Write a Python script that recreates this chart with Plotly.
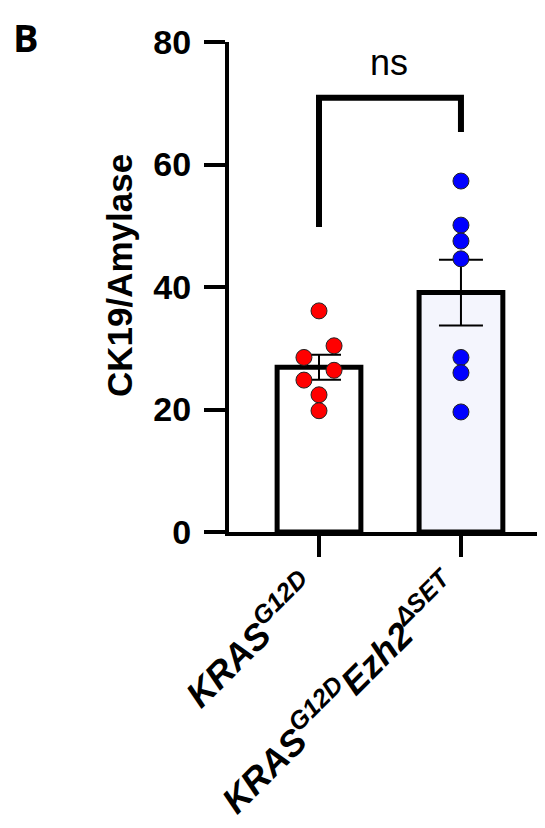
import numpy as np
import plotly.graph_objects as go

# ---- data ----
categories = ["<i>KRAS<sup>G12D</sup></i>", "<i>KRAS<sup>G12D</sup>Ezh2<sup>ΔSET</sup></i>"]
kras_values = [36.1, 30.4, 28.5, 26.4, 24.8, 22.4, 19.8]
ezh2_values = [57.3, 50.1, 47.5, 44.6, 28.5, 26.0, 19.6]
y_ticks = [0, 20, 40, 60, 80]
y_title = "CK19/Amylase"
sig_label = "ns"
panel_label = "B"

# layout-only helpers (point jitter within a column, bracket heights)
kras_jitter = [0, 0.106, -0.106, 0.106, -0.106, 0, 0]
ezh2_jitter = [0, 0, 0, 0, 0, 0, 0]
bracket_top = 70.9
bracket_left_bottom = 49.8
bracket_right_bottom = 65.3

groups = [kras_values, ezh2_values]
means = [float(np.mean(g)) for g in groups]
sems = [float(np.std(g, ddof=1) / np.sqrt(len(g))) for g in groups]
xpos = [0, 1]

FONT = "Liberation Sans, Arial, sans-serif"
OFF = 8                      # page body margin
W, H = 545 - OFF, 828 - OFF
L, T, B = 221, 34, 296
PW = W - L
PH = H - T - B


def px(sx):  # screen x -> paper
    return (sx - OFF - L) / PW


def py(sy):  # screen y -> paper
    return (H - B - (sy - OFF)) / PH


fig = go.Figure()
fig.add_trace(go.Bar(
    x=xpos, y=means, width=0.59,
    marker=dict(color=["#ffffff", "#f4f5fd"], line=dict(color="black", width=5)),
    error_y=dict(type="data", array=sems, visible=True, color="black", thickness=2, width=22),
    showlegend=False,
))
fig.add_trace(go.Scatter(
    x=[xpos[0] + j for j in kras_jitter], y=kras_values, mode="markers",
    marker=dict(color="#ff0000", size=16, line=dict(color="#222222", width=1)),
    showlegend=False,
))
fig.add_trace(go.Scatter(
    x=[xpos[1] + j for j in ezh2_jitter], y=ezh2_values, mode="markers",
    marker=dict(color="#0000ff", size=16, line=dict(color="#222222", width=1)),
    showlegend=False,
))

# significance bracket
fig.add_shape(type="path",
              path=f"M {xpos[0]},{bracket_left_bottom} L {xpos[0]},{bracket_top} L {xpos[1]},{bracket_top} L {xpos[1]},{bracket_right_bottom}",
              xref="x", yref="y", line=dict(color="black", width=6))
fig.add_annotation(x=0.49, y=76.6, xref="x", yref="y", text=sig_label, showarrow=False,
                   xanchor="center", yanchor="middle",
                   font=dict(family=FONT, size=36, color="black"))
fig.add_annotation(x=px(119), y=py(275), xref="paper", yref="paper", text=y_title,
                   textangle=-90, showarrow=False, xanchor="center", yanchor="middle",
                   font=dict(family=FONT, size=35, color="black", weight="bold"))
fig.add_annotation(x=px(26), y=py(37), xref="paper", yref="paper", text=panel_label,
                   showarrow=False, xanchor="center", yanchor="middle",
                   font=dict(family="Open Sans, sans-serif", size=38, color="black", weight="bold"))

fig.update_layout(
    width=W, height=H,
    margin=dict(l=L, r=0, t=T, b=B),
    plot_bgcolor="white", paper_bgcolor="white",
    xaxis=dict(range=[-0.634, 1.592], tickvals=xpos, ticktext=categories, tickangle=-45,
               showline=True, linecolor="black", linewidth=4, ticks="outside", ticklen=21,
               tickwidth=4, tickcolor="black", showgrid=False, zeroline=False, automargin=False,
               ticklabelshift=-12, ticklabelstandoff=-4,
               tickfont=dict(family=FONT, size=36, color="black", weight="bold")),
    yaxis=dict(range=[0, 80], tickvals=y_ticks, showline=True, linecolor="black", linewidth=4,
               ticks="outside", ticklen=21, tickwidth=4, tickcolor="black", showgrid=False,
               zeroline=False, ticklabelstandoff=6, automargin=False,
               tickfont=dict(family=FONT, size=34, color="black", weight="bold")),
)

fig.write_html("out.html")
